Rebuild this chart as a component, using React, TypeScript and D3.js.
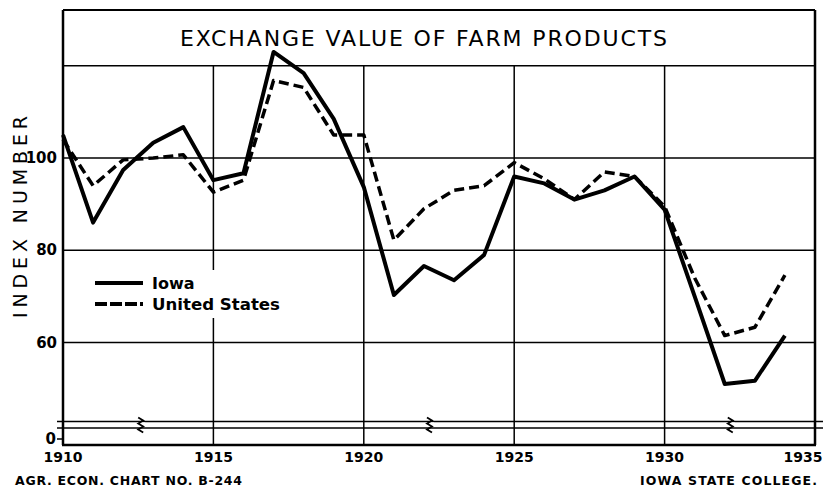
import * as d3 from 'd3'

const years = d3.range(1910, 1935)
const iowa = [105, 86, 97.4, 103.3, 106.7, 95.2, 96.7, 123, 118.4, 108.5, 93.7, 70.3, 76.6, 73.5, 79, 96, 94.5, 91, 93, 96, 88.8, 70, 51, 51.7, 61.5]
const unitedStates = [104, 94, 99.6, 100, 100.7, 92.6, 95.2, 116.8, 115.3, 105, 105, 82.2, 89, 93, 94, 99, 95.5, 91, 97, 96, 89.5, 74, 61.5, 63.3, 74.6]
const xTicks = [1910, 1915, 1920, 1925, 1930, 1935]
const yTicks = [60, 80, 100]
const breakYears = [1912.6, 1922.2, 1932.2]

const FONT = "'DejaVu Sans', sans-serif"

export default function App() {
  const width = 826
  const height = 489
  const left = 63
  const right = 815
  const top = 10
  const bottom = 445

  const x = d3.scaleLinear().domain([1910, 1935]).range([left, right])
  const y = d3.scaleLinear().domain([60, 120]).range([342.5, 65.8])

  const line = d3.line<number>()
    .x((_, i) => x(years[i]))
    .y(d => y(d))

  const breakTop = 421.5
  const breakBot = 428

  return (
    <svg width={width} height={height} style={{position: 'absolute', left: 0, top: 0}} fontFamily={FONT}>
      <rect width={width} height={height} fill="#fff" />

      {/* grid */}
      <g stroke="#000" strokeWidth={1.5}>
        {[...yTicks, 120].map(t => (
          <line key={t} x1={left} x2={right} y1={y(t)} y2={y(t)} />
        ))}
        {xTicks.slice(1, -1).map(t => (
          <line key={t} x1={x(t)} x2={x(t)} y1={y(120)} y2={bottom} />
        ))}
      </g>

      {/* frame */}
      <g stroke="#000" fill="none">
        <line x1={left} x2={right} y1={top} y2={top} strokeWidth={2} />
        <line x1={left} x2={left} y1={top} y2={bottom} strokeWidth={2.5} />
        <line x1={right} x2={right} y1={top} y2={bottom} strokeWidth={2.5} />
        <line x1={left - 1} x2={right + 1} y1={bottom} y2={bottom} strokeWidth={2.5} />
        <line x1={57} x2={left} y1={439} y2={439} strokeWidth={1.5} />
      </g>

      {/* scale break */}
      <g stroke="#000" fill="none" strokeWidth={1.5}>
        <line x1={57} x2={823} y1={breakTop} y2={breakTop} />
        <line x1={57} x2={823} y1={breakBot} y2={breakBot} />
        {breakYears.map(b => (
          <g key={b}>
            <rect x={x(b) - 4} y={breakTop + 1} width={8} height={breakBot - breakTop - 2} fill="#fff" stroke="none" />
            <path d={`M${x(b) - 3},${breakTop - 4} l5,3 l-5,3 l5,3 l-5,3 l5,3`} strokeWidth={1.8} />
          </g>
        ))}
      </g>

      {/* title */}
      <text x={180} y={46} fontSize={22} textLength={487} lengthAdjust="spacing">
        EXCHANGE VALUE OF FARM PRODUCTS
      </text>

      {/* y axis */}
      <g fontSize={15} fontWeight="bold" textAnchor="end">
        {yTicks.map(t => (
          <text key={t} x={57} y={y(t) + 5}>{t}</text>
        ))}
        <text x={56} y={444}>0</text>
      </g>
      <text transform="translate(27,217) rotate(-90)" textAnchor="middle" fontSize={19} textLength={202} lengthAdjust="spacing">
        INDEX NUMBER
      </text>

      {/* x axis */}
      <g fontSize={14} fontWeight="bold" textAnchor="middle">
        {xTicks.map(t => (
          <text key={t} x={t === 1935 ? x(t) - 12 : x(t)} y={462}>{t}</text>
        ))}
      </g>

      {/* legend */}
      <rect x={90} y={270} width={200} height={48} fill="#fff" />
      <g stroke="#000" strokeWidth={4}>
        <line x1={95} x2={143} y1={283} y2={283} />
        <line x1={95} x2={143} y1={304} y2={304} strokeDasharray="12,3" />
      </g>
      <g fontSize={16} fontWeight="bold">
        <text x={152} y={289}>Iowa</text>
        <text x={152} y={310} textLength={128} lengthAdjust="spacingAndGlyphs">United States</text>
      </g>

      {/* series */}
      <path d={line(unitedStates) ?? undefined} fill="none" stroke="#000" strokeWidth={3.5} strokeDasharray="10,5" strokeLinejoin="round" />
      <path d={line(iowa) ?? undefined} fill="none" stroke="#000" strokeWidth={4} strokeLinejoin="round" />

      {/* footer */}
      <g fontSize={12.5} fontWeight="bold">
        <text x={15} y={485} textLength={227} lengthAdjust="spacing">AGR. ECON. CHART NO. B-244</text>
        <text x={640} y={485} textLength={177} lengthAdjust="spacing">IOWA STATE COLLEGE.</text>
      </g>
    </svg>
  )
}
